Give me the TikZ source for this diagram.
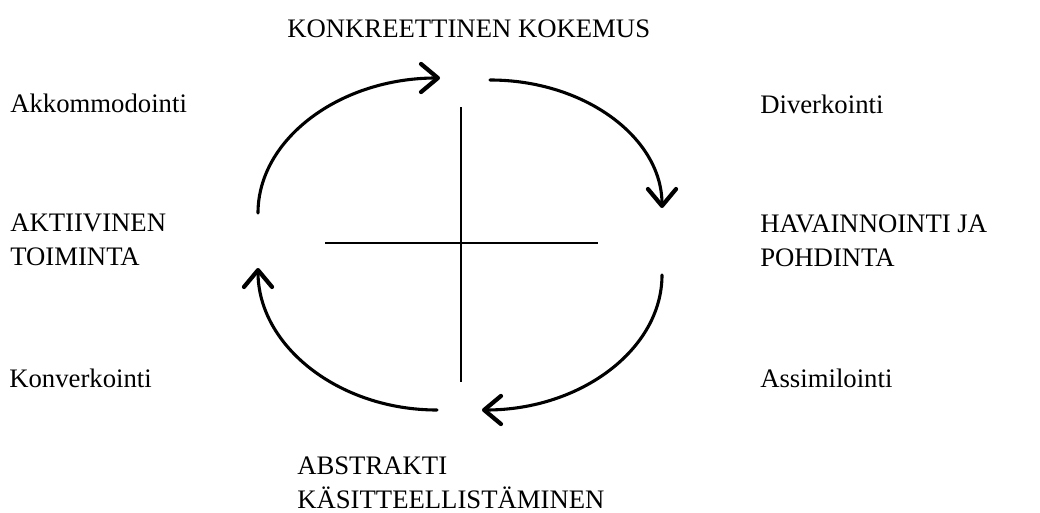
\documentclass[tikz,border=0pt]{standalone}
\usepackage{fontspec}
\setmainfont{Liberation Serif}
\usetikzlibrary{arrows.meta}

\begin{document}
\begin{tikzpicture}[x=0.025cm, y=-0.025cm,
  every node/.style={inner sep=0pt, align=left, font=\fontsize{19}{24}\selectfont},
  loopline/.style={line width=2.2pt, line cap=round, -{Straight Barb[length=12pt, width=20pt, line width=0.8pt 1, round]}},
  crossline/.style={line width=1.4pt}]
\useasboundingbox (0,0) rectangle (1040,513);

\node (kokemus) [anchor=base west] at (287,37) {KONKREETTINEN KOKEMUS};
\node (akko) [anchor=base west] at (10,112) {Akkommodointi};
\node (diver) [anchor=base west] at (760,113) {Diverkointi};
\node (aktiivinen) [anchor=north west] at (10,214) {AKTIIVINEN\\TOIMINTA};
\node (havainnointi) [anchor=north west] at (760,215) {HAVAINNOINTI JA\\POHDINTA};
\node (konver) [anchor=base west] at (9,387) {Konverkointi};
\node (assim) [anchor=base west] at (760,387) {Assimilointi};
\node (abstrakti) [anchor=north west] at (297,457) {ABSTRAKTI\\KÄSITTEELLISTÄMINEN};

\coordinate (tl1) at (258,213);
\coordinate (tl2) at (440,78);
\coordinate (tr1) at (490,80);
\coordinate (tr2) at (662,208);
\coordinate (br1) at (662,275);
\coordinate (br2) at (482,410);
\coordinate (bl1) at (437,410);
\coordinate (bl2) at (258,268);
\coordinate (top) at (461,107);
\coordinate (bottom) at (461,382);
\coordinate (left) at (325,243);
\coordinate (right) at (598,243);

\draw[loopline] (tl1) .. controls (258,139) and (340,78) .. (tl2);
\draw[loopline] (tr1) .. controls (585,80) and (662,138) .. (tr2);
\draw[loopline] (br1) .. controls (662,349) and (581,410) .. (br2);
\draw[loopline] (bl1) .. controls (339,410) and (258,346) .. (bl2);

\draw[crossline] (top) -- (bottom);
\draw[crossline] (left) -- (right);
\end{tikzpicture}
\end{document}
